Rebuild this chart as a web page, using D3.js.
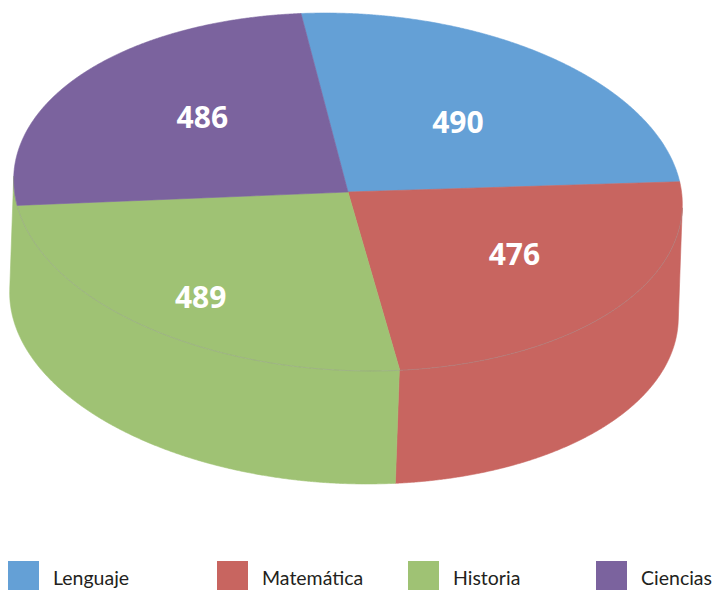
<!DOCTYPE html>
<html>
<head>
<meta charset="utf-8">
<script src="https://cdn.jsdelivr.net/npm/d3@7"></script>
<style>
  body { margin: 0; background: #ffffff; }
  svg { display: block; }
</style>
</head>
<body>
<svg id="chart" width="713" height="590"></svg>
<script>
// Average scores per subject
const subjects = ["Lenguaje", "Matemática", "Historia", "Ciencias"];
const scores = [490, 476, 489, 486];
const colors = ["#64a0d6", "#c86560", "#9fc274", "#7b639e"];

// Projection of the tilted cylinder: centre of the top face, the two
// projected radius vectors (angle 0 and angle 90°) and the extrusion vector.
const centre = [348, 192];
const axisU = [-47, -178.5];
const axisV = [331, -13];
const depth = [-4, 113];
// The front wall only shows the slices facing the viewer; the thin
// slivers near the silhouette take the colour of the nearest front slice.
const wallColourRange = [100, 266];
// Label placement: fraction of the radius and turn (degrees) from the mid-angle
const labelRadius = [0.53, 0.59, 0.76, 0.585];
const labelTurn = [1, -4.5, -1, 5];
const legendX = [8, 217, 408, 596];

const svg = d3.select("#chart");

const pie = d3.pie().sort(null).value(d => d).startAngle(0).endAngle(2 * Math.PI);
const slices = pie(scores);
const rad = d3.scaleLinear().domain([0, 360]).range([0, 2 * Math.PI]);

function project(theta, r, h) {
  const c = Math.cos(theta), s = Math.sin(theta);
  return [
    centre[0] + r * (c * axisU[0] + s * axisV[0]) + h * depth[0],
    centre[1] + r * (c * axisU[1] + s * axisV[1]) + h * depth[1]
  ];
}

// The side wall is visible where the extrusion points away from the top face.
function wallVisible(theta) {
  const c = Math.cos(theta), s = Math.sin(theta);
  const tx = -s * axisU[0] + c * axisV[0];
  const ty = -s * axisU[1] + c * axisV[1];
  return tx * depth[1] - ty * depth[0] < 0;
}

function sliceAt(theta) {
  const t = ((theta % (2 * Math.PI)) + 2 * Math.PI) % (2 * Math.PI);
  const i = slices.findIndex(s => t >= s.startAngle && t < s.endAngle);
  return i < 0 ? slices.length - 1 : i;
}

function sampleAngles(a0, a1) {
  const n = Math.max(2, Math.ceil((a1 - a0) / (Math.PI / 720)));
  return d3.range(n + 1).map(i => a0 + (a1 - a0) * i / n);
}

const line = d3.line();

// Side wall, split into runs of constant colour
const full = sampleAngles(0, 2 * Math.PI);
const wallRuns = [];
let run = null;
for (let k = 0; k < full.length - 1; k++) {
  const mid = (full[k] + full[k + 1]) / 2;
  if (!wallVisible(mid)) { if (run) { wallRuns.push(run); run = null; } continue; }
  const idx = sliceAt(Math.max(rad(wallColourRange[0]), Math.min(rad(wallColourRange[1]), mid)));
  if (run && run.idx !== idx) { wallRuns.push(run); run = null; }
  if (!run) run = { idx, angles: [full[k]] };
  run.angles.push(full[k + 1]);
}
if (run) wallRuns.push(run);

const walls = svg.append("g");
wallRuns.forEach(r => {
  const top = r.angles.map(a => project(a, 1, 0));
  const bottom = r.angles.slice().reverse().map(a => project(a, 1, 1));
  walls.append("path")
    .attr("d", line(top.concat(bottom)) + "Z")
    .attr("fill", colors[r.idx])
    .attr("stroke", colors[r.idx])
    .attr("stroke-width", 0.6);
});

// Top faces
const tops = svg.append("g");
slices.forEach((sl, i) => {
  const pts = [project(0, 0, 0)].concat(
    sampleAngles(sl.startAngle, sl.endAngle).map(a => project(a, 1, 0)));
  tops.append("path")
    .attr("d", line(pts) + "Z")
    .attr("fill", colors[i])
    .attr("stroke", colors[i])
    .attr("stroke-width", 0.6)
    .attr("stroke-linejoin", "round");
});

// Faint rim where the top face meets the front wall
wallRuns.forEach(r => {
  svg.append("path")
    .attr("d", line(r.angles.map(a => project(a, 1, 0))))
    .attr("fill", "none")
    .attr("stroke", "rgba(150,150,150,0.5)")
    .attr("stroke-width", 0.8);
});

// Value labels
function labelPoint(d, i) {
  const a = (d.startAngle + d.endAngle) / 2 + rad(labelTurn[i]);
  return project(a, labelRadius[i], 0);
}
svg.append("g").selectAll("text")
  .data(slices)
  .join("text")
  .attr("x", (d, i) => labelPoint(d, i)[0])
  .attr("y", (d, i) => labelPoint(d, i)[1])
  .attr("dy", "0.36em")
  .attr("text-anchor", "middle")
  .attr("font-family", "'Open Sans', sans-serif")
  .attr("font-weight", 700)
  .attr("font-size", 30)
  .attr("fill", "#ffffff")
  .text(d => d.data);

// Legend
const legend = svg.append("g").selectAll("g")
  .data(subjects)
  .join("g")
  .attr("transform", (d, i) => `translate(${legendX[i]},561)`);
legend.append("rect")
  .attr("width", 31)
  .attr("height", 29)
  .attr("fill", (d, i) => colors[i]);
legend.append("text")
  .attr("x", 45)
  .attr("y", 24)
  .attr("font-family", "Lato, sans-serif")
  .attr("font-size", 19.5)
  .attr("fill", "#231f20")
  .text(d => d);
</script>
</body>
</html>
